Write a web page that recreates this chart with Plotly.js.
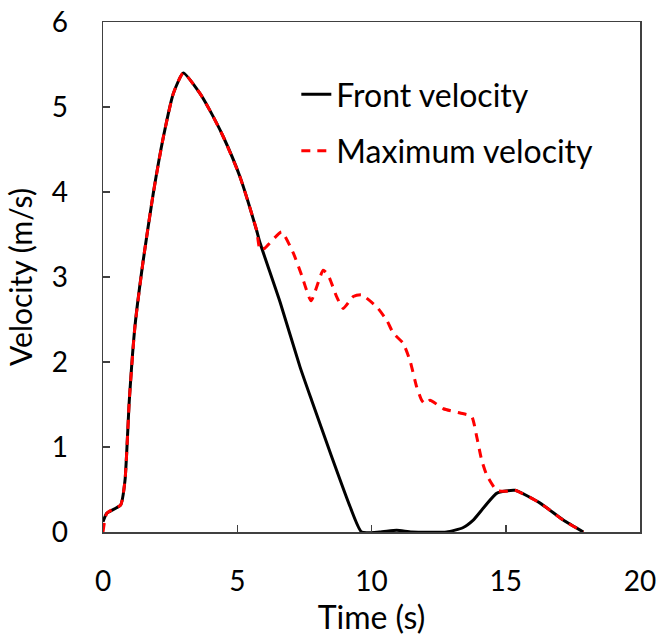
<!DOCTYPE html>
<html>
<head>
<meta charset="utf-8">
<script src="https://cdn.plot.ly/plotly-3.0.1.min.js"></script>
<style>html,body{margin:0;padding:0;background:#fff;}#chart{width:665px;height:640px;}</style>
</head>
<body>
<div id="chart"></div>
<script>
// Front velocity (black solid)
const frontTime = [0, 0.14, 0.66, 0.82, 0.98, 1.19, 1.5, 1.87, 2.25, 2.62, 2.99, 3.61, 3.98, 4.48, 5.1, 5.72, 5.85, 6.6, 7.34, 7.77, 8.5, 9.2, 9.63, 10.3, 10.94, 11.5, 12.8, 13.4, 13.79, 14.66, 15.34, 16.28, 17.14, 17.89];
const frontVel  = [0.12, 0.22, 0.32, 0.61, 1.55, 2.42, 3.2, 3.98, 4.65, 5.16, 5.40, 5.16, 4.96, 4.65, 4.18, 3.55, 3.40, 2.70, 1.94, 1.55, 0.90, 0.30, 0.0, 0.0, 0.02, 0.0, 0.0, 0.05, 0.14, 0.455, 0.49, 0.34, 0.14, 0.0];
// Maximum velocity (red dashed)
const maxTime = [0, 0.14, 0.66, 0.82, 0.98, 1.19, 1.5, 1.87, 2.25, 2.62, 2.99, 3.61, 3.98, 4.48, 5.1, 5.72, 5.85, 6.03, 6.65, 7.09, 7.40, 7.75, 8.2, 8.39, 8.70, 8.95, 9.32, 9.63, 10.19, 10.57, 10.81, 11.18, 11.43, 11.68, 11.87, 11.99, 12.18, 12.68, 13.3, 13.73, 13.92, 14.1, 14.29, 14.66, 15.03, 15.34, 16.28, 17.14, 17.89];
const maxVel  = [0.0, 0.22, 0.32, 0.61, 1.55, 2.42, 3.2, 3.98, 4.65, 5.16, 5.40, 5.16, 4.96, 4.65, 4.18, 3.55, 3.32, 3.34, 3.53, 3.28, 3.02, 2.72, 3.08, 3.02, 2.77, 2.63, 2.77, 2.79, 2.65, 2.49, 2.34, 2.22, 2.02, 1.71, 1.55, 1.51, 1.55, 1.45, 1.40, 1.36, 1.12, 0.85, 0.67, 0.49, 0.48, 0.49, 0.34, 0.14, 0.0];
const xTicks = [0, 5, 10, 15, 20];
const yTicks = [0, 1, 2, 3, 4, 5, 6];
const seriesNames = ["Front velocity", "Maximum velocity"];

const FONT = "Lato, 'Open Sans', sans-serif";
const AX = "#404040";

const traces = [
  {x: frontTime, y: frontVel, name: seriesNames[0], mode: "lines", legendgroup: "a",
   line: {color: "#000000", width: 3, shape: "spline", smoothing: 0.5}},
  {x: maxTime, y: maxVel, name: seriesNames[1], mode: "lines", legendgroup: "b",
   line: {color: "#ff0000", width: 3, dash: "9px,7px", shape: "spline", smoothing: 0.5}}
];

const layout = {
  width: 665, height: 640,
  margin: {l: 103, r: 25, t: 22, b: 108},
  paper_bgcolor: "#ffffff", plot_bgcolor: "#ffffff",
  font: {family: FONT, size: 28, color: "#000000"},
  showlegend: true,
  legend: {x: 0.36, y: 0.912, xanchor: "left", yanchor: "top", bgcolor: "rgba(0,0,0,0)",
           font: {family: FONT, size: 32, color: "#000"}, traceorder: "grouped", tracegroupgap: 12},
  xaxis: {range: [0, 20], tickvals: xTicks, ticktext: xTicks.map(String), ticks: "inside", ticklen: 7,
          tickcolor: AX, tickwidth: 1.5, showline: true, mirror: true, linecolor: AX, linewidth: 1.5,
          showgrid: false, zeroline: false, ticklabelstandoff: 24,
          tickfont: {family: FONT, size: 28, color: "#000"},
          title: {text: "Time (s)", font: {family: FONT, size: 32, color: "#000"}, standoff: 0}},
  yaxis: {range: [0, 6], tickvals: yTicks, ticktext: yTicks.map(String), ticks: "inside", ticklen: 7,
          tickcolor: AX, tickwidth: 1.5, showline: true, mirror: true, linecolor: AX, linewidth: 1.5,
          showgrid: false, zeroline: false, ticklabelstandoff: 28,
          tickfont: {family: FONT, size: 28, color: "#000"},
          title: {text: "Velocity (m/s)", font: {family: FONT, size: 30, color: "#000"}, standoff: 10}}
};

Plotly.newPlot("chart", traces, layout, {staticPlot: true, displayModeBar: false});
</script>
</body>
</html>
